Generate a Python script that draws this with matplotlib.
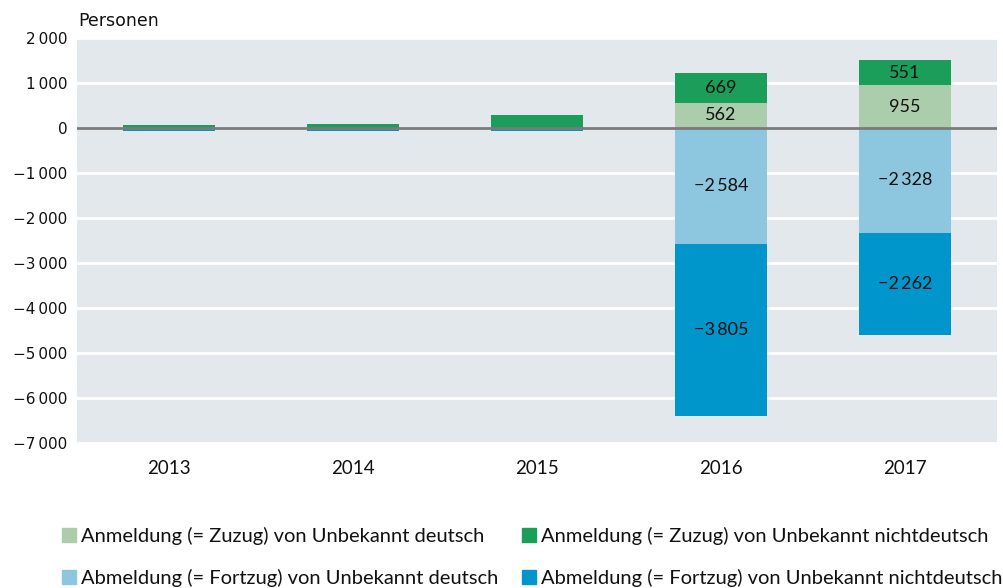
import matplotlib
matplotlib.use("Agg")
import matplotlib.pyplot as plt
import numpy as np
from matplotlib.patches import Patch

years = ["2013", "2014", "2015", "2016", "2017"]
zuzug_deutsch = [0, 0, 0, 562, 955]
zuzug_nichtdeutsch = [75, 95, 295, 669, 551]
fortzug_deutsch = [-15, -15, -15, -2584, -2328]
fortzug_nichtdeutsch = [-45, -45, -45, -3805, -2262]
labels = [
    "Anmeldung (= Zuzug) von Unbekannt deutsch",
    "Anmeldung (= Zuzug) von Unbekannt nichtdeutsch",
    "Abmeldung (= Fortzug) von Unbekannt deutsch",
    "Abmeldung (= Fortzug) von Unbekannt nichtdeutsch",
]
colors = ["#abcdab", "#1b9e5a", "#8cc7df", "#0096cc"]
yticks = [2000, 1000, 0, -1000, -2000, -3000, -4000, -5000, -6000, -7000]

FONT = ["Lato", "DejaVu Sans"]
plt.rcParams["font.family"] = FONT

def fmt(v):
    s = f"{abs(int(v))}"
    if len(s) > 3:
        s = s[:-3] + "\u2009" + s[-3:]
    return ("\u2212" if v < 0 else "") + s

fig = plt.figure(figsize=(10.04, 5.88), dpi=100)
ax = fig.add_axes([77/1004, 1-443/588, 920/1004, 405/588])
ax.set_facecolor("#e3e8ec")
x = np.arange(len(years))
w = 0.505

zd = np.array(zuzug_deutsch, float)
zn = np.array(zuzug_nichtdeutsch, float)
fd = np.array(fortzug_deutsch, float)
fn = np.array(fortzug_nichtdeutsch, float)

ax.bar(x, zd, w, color=colors[0], zorder=2)
ax.bar(x, zn, w, bottom=zd, color=colors[1], zorder=2)
ax.bar(x, fd, w, color=colors[2], zorder=2)
ax.bar(x, fn, w, bottom=fd, color=colors[3], zorder=2)

for vals, bottoms in [(zd, np.zeros(5)), (zn, zd), (fd, np.zeros(5)), (fn, fd)]:
    for xi, v, b in zip(x, vals, bottoms):
        if abs(v) > 400:
            ax.text(xi, b + v/2, fmt(v), ha="center", va="center",
                    fontsize=13, color="#111111", zorder=4)

ax.axhline(0, color="#7a7a7a", lw=2, zorder=3)
ax.set_ylim(-7000, 2000)
ax.set_xlim(-0.5, 4.5)
ax.set_yticks(yticks)
ax.set_yticklabels([fmt(v) for v in yticks], fontsize=11, color="#111111",
                   family="DejaVu Sans")
ax.set_xticks(x)
ax.set_xticklabels(years, fontsize=13.5, color="#111111")
ax.tick_params(length=0)
ax.tick_params(axis="y", pad=7)
ax.tick_params(axis="x", pad=12)
ax.yaxis.grid(True, color="white", lw=2, zorder=1)
ax.set_axisbelow(True)
for s in ax.spines.values():
    s.set_visible(False)

fig.text(78/1004, 1-21/588, "Personen", fontsize=12.5, va="center", ha="left",
         color="#111111", family="DejaVu Sans")

positions = [(62, 536), (522, 536), (62, 578), (522, 578)]
for (px, py), lab, c in zip(positions, labels, colors):
    fig.legend([Patch(color=c)], [lab], loc="center left",
               bbox_to_anchor=(px/1004, 1-py/588), frameon=False, fontsize=14.5,
               handlelength=0.7, handleheight=0.75, handletextpad=0.25,
               borderpad=0, borderaxespad=0, labelcolor="#111111")

fig.savefig("out.png", dpi=100)
